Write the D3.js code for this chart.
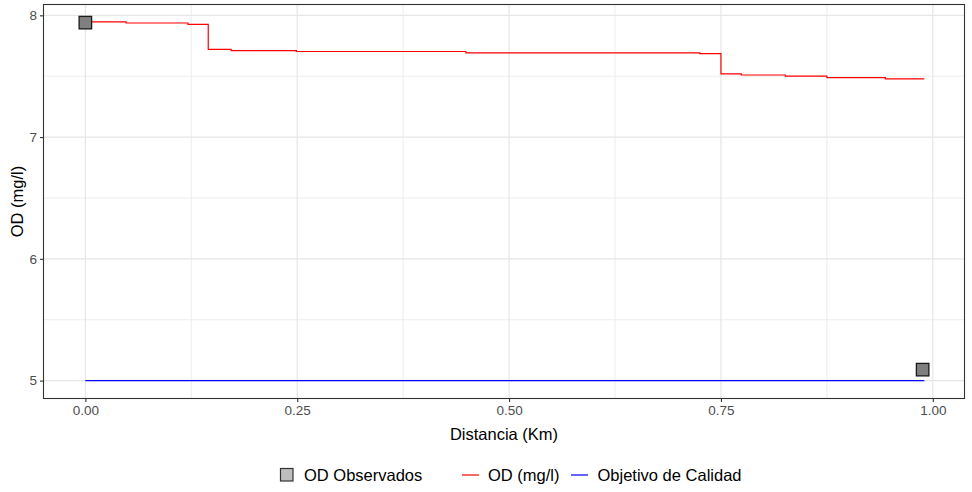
<!DOCTYPE html>
<html lang="es">

<head>
  <title>OD</title>
  <meta charset="UTF-8">
  <style>
    body {
      margin: 0;
      background: #fff;
      font-family: "Liberation Sans", Arial, sans-serif;
    }
  </style>
</head>

<body>
  <div id="container"></div>
  <script src="https://cdn.jsdelivr.net/npm/d3@7"></script>
  <script>
    // data
    const distancia = [0, 0.048, 0.121, 0.145, 0.172, 0.249, 0.449, 0.725, 0.75, 0.774, 0.826, 0.875, 0.944, 0.99];
    const odModel = [7.946, 7.937, 7.926, 7.72, 7.71, 7.703, 7.692, 7.686, 7.52, 7.51, 7.50, 7.489, 7.478, 7.478];
    const obsDist = [0, 0.988];
    const obsOD = [7.94, 5.09];
    const objetivoDist = [0, 0.99];
    const objetivoVal = [5, 5];
    const xTicks = [0, 0.25, 0.5, 0.75, 1];
    const yTicks = [5, 6, 7, 8];

    const W = 972, H = 492;
    const panel = { left: 43.5, top: 4.5, right: 964.5, bottom: 398.5 };

    const svg = d3.select('#container').append('svg')
      .attr('width', W)
      .attr('height', H);

    const x = d3.scaleLinear()
      .domain([-0.0494, 1.0374])
      .range([panel.left, panel.right]);
    const y = d3.scaleLinear()
      .domain([4.853, 8.089])
      .range([panel.bottom, panel.top]);

    // grid
    const grid = svg.append('g');
    const xMinor = [0.125, 0.375, 0.625, 0.875];
    const yMinor = [5.5, 6.5, 7.5];
    grid.selectAll('.xminor').data(xMinor).join('line')
      .attr('x1', d => x(d)).attr('x2', d => x(d))
      .attr('y1', panel.top).attr('y2', panel.bottom)
      .attr('stroke', '#ebebeb').attr('stroke-width', 0.9);
    grid.selectAll('.yminor').data(yMinor).join('line')
      .attr('y1', d => y(d)).attr('y2', d => y(d))
      .attr('x1', panel.left).attr('x2', panel.right)
      .attr('stroke', '#ebebeb').attr('stroke-width', 0.9);
    grid.selectAll('.xmajor').data(xTicks).join('line')
      .attr('x1', d => x(d)).attr('x2', d => x(d))
      .attr('y1', panel.top).attr('y2', panel.bottom)
      .attr('stroke', '#e6e6e6').attr('stroke-width', 1.2);
    grid.selectAll('.ymajor').data(yTicks).join('line')
      .attr('y1', d => y(d)).attr('y2', d => y(d))
      .attr('x1', panel.left).attr('x2', panel.right)
      .attr('stroke', '#e6e6e6').attr('stroke-width', 1.2);

    // lines
    const line = d3.line()
      .x(d => x(d[0]))
      .y(d => y(d[1]));
    svg.append('path')
      .datum(objetivoDist.map((d, i) => [d, objetivoVal[i]]))
      .attr('d', line)
      .attr('fill', 'none')
      .attr('stroke', '#0000ff')
      .attr('stroke-width', 1.2);
    svg.append('path')
      .datum(distancia.map((d, i) => [d, odModel[i]]))
      .attr('d', line.curve(d3.curveStepAfter))
      .attr('fill', 'none')
      .attr('stroke', '#ff0000')
      .attr('stroke-width', 1.2);

    // observed points
    const s = 12.5;
    svg.selectAll('.obs').data(obsDist).join('rect')
      .attr('x', d => x(d) - s / 2)
      .attr('y', (d, i) => y(obsOD[i]) - s / 2)
      .attr('width', s).attr('height', s)
      .attr('fill', '#7f7f7f')
      .attr('stroke', '#1a1a1a')
      .attr('stroke-width', 1.3);

    // panel border
    svg.append('rect')
      .attr('x', panel.left).attr('y', panel.top)
      .attr('width', panel.right - panel.left)
      .attr('height', panel.bottom - panel.top)
      .attr('fill', 'none')
      .attr('stroke', '#333333')
      .attr('stroke-width', 1.1);

    // axes
    const xAxis = svg.append('g')
      .attr('transform', `translate(0,${panel.bottom})`)
      .call(d3.axisBottom(x).tickValues(xTicks).tickFormat(d3.format('.2f')).tickSize(3.5).tickPadding(3));
    const yAxis = svg.append('g')
      .attr('transform', `translate(${panel.left},0)`)
      .call(d3.axisLeft(y).tickValues(yTicks).tickFormat(d3.format('d')).tickSize(3.5).tickPadding(3));
    [xAxis, yAxis].forEach(a => {
      a.select('.domain').remove();
      a.selectAll('line').attr('stroke', '#333333').attr('stroke-width', 1.1);
      a.selectAll('text')
        .attr('fill', '#4d4d4d')
        .style('font-family', '"Liberation Sans", Arial, sans-serif')
        .style('font-size', '13.5px');
    });

    // titles
    svg.append('text')
      .attr('x', (panel.left + panel.right) / 2)
      .attr('y', 440)
      .attr('text-anchor', 'middle')
      .style('font-size', '16.5px')
      .text('Distancia (Km)');
    svg.append('text')
      .attr('transform', `translate(23,${(panel.top + panel.bottom) / 2}) rotate(-90)`)
      .attr('text-anchor', 'middle')
      .style('font-size', '16.5px')
      .text('OD (mg/l)');

    // legend
    const lg = svg.append('g').style('font-size', '16.5px');
    const ly = 475;
    lg.append('rect')
      .attr('x', 280.5).attr('y', ly - 6.5)
      .attr('width', 12.5).attr('height', 12.5)
      .attr('fill', '#bebebe')
      .attr('stroke', '#333333')
      .attr('stroke-width', 1.2);
    lg.append('text').attr('x', 304).attr('y', ly + 6).text('OD Observados');
    lg.append('line')
      .attr('x1', 462).attr('x2', 479).attr('y1', ly).attr('y2', ly)
      .attr('stroke', '#ff0000').attr('stroke-width', 1.2);
    lg.append('text').attr('x', 488).attr('y', ly + 6).text('OD (mg/l)');
    lg.append('line')
      .attr('x1', 571).attr('x2', 588).attr('y1', ly).attr('y2', ly)
      .attr('stroke', '#0000ff').attr('stroke-width', 1.2);
    lg.append('text').attr('x', 597.5).attr('y', ly + 6).text('Objetivo de Calidad');
  </script>
</body>

</html>
